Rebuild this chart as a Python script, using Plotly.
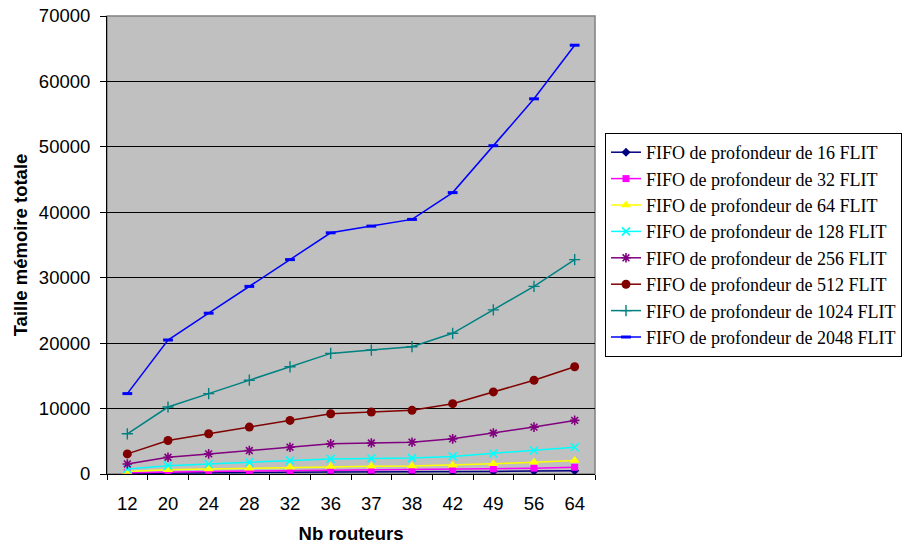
import plotly.graph_objects as go

routeurs = ["12", "20", "24", "28", "32", "36", "37", "38", "42", "49", "56", "64"]

fifo_16 = [96, 160, 192, 224, 256, 288, 296, 304, 336, 392, 448, 512]
fifo_32 = [192, 320, 384, 448, 512, 576, 592, 608, 672, 784, 896, 1024]
fifo_64 = [384, 640, 768, 896, 1024, 1152, 1184, 1216, 1344, 1568, 1792, 2048]
fifo_128 = [768, 1280, 1536, 1792, 2048, 2304, 2368, 2432, 2688, 3136, 3584, 4096]
fifo_256 = [1536, 2560, 3072, 3584, 4096, 4608, 4736, 4864, 5376, 6272, 7168, 8192]
fifo_512 = [3072, 5120, 6144, 7168, 8192, 9216, 9472, 9728, 10752, 12544, 14336, 16384]
fifo_1024 = [6144, 10240, 12288, 14336, 16384, 18432, 18944, 19456, 21504, 25088, 28672, 32768]
fifo_2048 = [12288, 20480, 24576, 28672, 32768, 36864, 37888, 38912, 43008, 50176, 57344, 65536]

series = [
    ("FIFO de profondeur de 16 FLIT", fifo_16, "#000080", "diamond", 7, 1),
    ("FIFO de profondeur de 32 FLIT", fifo_32, "#FF00FF", "square", 7, 1),
    ("FIFO de profondeur de 64 FLIT", fifo_64, "#FFFF00", "triangle-up", 9, 1),
    ("FIFO de profondeur de 128 FLIT", fifo_128, "#00FFFF", "x-thin-open", 8, 1.6),
    ("FIFO de profondeur de 256 FLIT", fifo_256, "#800080", "asterisk-open", 8, 1.6),
    ("FIFO de profondeur de 512 FLIT", fifo_512, "#800000", "circle", 9, 1),
    ("FIFO de profondeur de 1024 FLIT", fifo_1024, "#008080", "cross-thin-open", 8, 1.4),
    ("FIFO de profondeur de 2048 FLIT", fifo_2048, "#0000FF", "line-ew-open", 7, 3),
]

fig = go.Figure()
for i, (name, vals, color, sym, size, lw) in enumerate(series):
    open_sym = sym.endswith("-open")
    fig.add_trace(go.Scatter(
        x=routeurs, y=vals, name=name, mode="lines+markers",
        line=dict(color=color, width=1.5),
        marker=dict(symbol=sym, size=size, color=color,
                    line=dict(color=color, width=lw if open_sym else 0)),
    ))

fig.add_shape(type="rect", xref="paper", yref="paper", x0=0, x1=1, y0=0, y1=1,
              line=dict(color="#808080", width=1.5), layer="below")

fig.update_layout(
    width=904, height=545,
    margin=dict(l=107, r=309, t=16, b=71, autoexpand=False),
    paper_bgcolor="white", plot_bgcolor="#C0C0C0",
    font=dict(family="Arial, Liberation Sans, sans-serif", size=18.5, color="black"),
    showlegend=True,
    legend=dict(
        xref="container", yref="container",
        x=605 / 904, y=1 - 133 / 545, xanchor="left", yanchor="top",
        bgcolor="white", bordercolor="black", borderwidth=1,
        font=dict(family="Times New Roman, Liberation Serif, serif", size=18, color="black"),
    ),
)
fig.update_xaxes(
    type="category", categoryorder="array", categoryarray=routeurs,
    range=[-0.5, len(routeurs) - 0.5],
    showgrid=False, showline=True, linecolor="black", linewidth=1,
    ticks="outside", tickson="boundaries", ticklen=5, tickcolor="black",
    ticklabelstandoff=13,
    title=dict(text="<b>Nb routeurs</b>", font=dict(size=18.5), standoff=13),
)
fig.update_yaxes(
    range=[0, 70000], dtick=10000, tickformat="d",
    showgrid=True, gridcolor="black", gridwidth=1,
    showline=True, linecolor="black", linewidth=1,
    ticks="outside", ticklen=6, tickcolor="black",
    zeroline=False, ticklabelstandoff=6, ticklabeloverflow="allow",
    title=dict(text="<b>Taille mémoire totale</b>", font=dict(size=18.5), standoff=6),
)

fig.write_html(
    "out.html",
    config={"displayModeBar": False},
    post_script="document.body.style.margin='0';document.body.style.padding='0';",
)
